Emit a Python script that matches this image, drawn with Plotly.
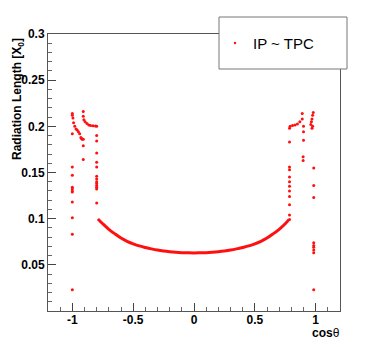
import plotly.graph_objects as go

# ---- data ----
curve_cos = [-0.79, -0.75, -0.7, -0.65, -0.6, -0.55, -0.5, -0.45, -0.4, -0.35, -0.3, -0.25, -0.2,
             -0.15, -0.1, -0.05, 0.0, 0.05, 0.1, 0.15, 0.2, 0.25, 0.3, 0.35, 0.4, 0.45, 0.5,
             0.55, 0.6, 0.65, 0.7, 0.75, 0.78]
curve_x0 = [0.0997, 0.0945, 0.0885, 0.0835, 0.0790, 0.0755, 0.0728, 0.0705, 0.0688, 0.0673, 0.0660,
            0.0650, 0.0642, 0.0636, 0.0632, 0.0630, 0.0629, 0.0630, 0.0632, 0.0636, 0.0642, 0.0650,
            0.0660, 0.0673, 0.0688, 0.0705, 0.0728, 0.0755, 0.0790, 0.0835, 0.0885, 0.0945, 0.0990]

edge_cos = [-1.0, -0.995, -0.99, -0.98, -0.97, -0.96, -0.95, -0.94, -0.93, -0.92, -0.925,
            -1.0, -1.0, -1.0, -1.0, -1.0, -1.0, -1.0, -1.0, -1.0, -1.0, -1.0, -1.0,
            -0.91, -0.91, -0.905, -0.895, -0.88, -0.865, -0.85, -0.83, -0.81, -0.80,
            -0.91, -0.91, -0.91,
            -0.8, -0.8, -0.8, -0.8, -0.8, -0.8, -0.8, -0.8, -0.8, -0.8, -0.8, -0.8, -0.8,
            0.96, 0.965, 0.97, 0.975, 0.98, 0.975, 0.97,
            0.89, 0.89, 0.87, 0.85, 0.83, 0.81, 0.79, 0.90, 0.90, 0.90,
            0.785, 0.785, 0.785, 0.785, 0.785, 0.785, 0.785, 0.785, 0.785, 0.785, 0.785, 0.785,
            0.897, 0.897,
            0.984, 0.984, 0.984, 0.984, 0.984, 0.984, 0.984, 0.984, 0.984]
edge_x0 = [0.214, 0.209, 0.204, 0.200, 0.197, 0.196, 0.194, 0.192, 0.188, 0.186, 0.187,
           0.192, 0.156, 0.147, 0.134, 0.132, 0.130, 0.129, 0.118, 0.101, 0.083, 0.023, 0.212,
           0.216, 0.211, 0.207, 0.205, 0.203, 0.2015, 0.2008, 0.2005, 0.2003, 0.2002,
           0.186, 0.179, 0.164,
           0.190, 0.184, 0.171, 0.161, 0.156, 0.146, 0.143, 0.140, 0.138, 0.136, 0.134, 0.132, 0.117,
           0.202, 0.205, 0.208, 0.212, 0.215, 0.200, 0.198,
           0.214, 0.208, 0.205, 0.2025, 0.2015, 0.201, 0.200, 0.200, 0.194, 0.185,
           0.198, 0.183, 0.156, 0.153, 0.145, 0.140, 0.135, 0.130, 0.124, 0.115, 0.104, 0.099,
           0.167, 0.163,
           0.155, 0.136, 0.123, 0.074, 0.071, 0.069, 0.066, 0.063, 0.023]

x_ticks = [-1, -0.5, 0, 0.5, 1]
x_tick_labels = ["-1", "-0.5", "0", "0.5", "1"]
y_ticks = [0.05, 0.1, 0.15, 0.2, 0.25, 0.3]
y_tick_labels = ["0.05", "0.1", "0.15", "0.2", "0.25", "0.3"]

legend_label = "IP ~ TPC"
RED = "#ff1010"

fig = go.Figure()
fig.add_trace(go.Scatter(x=curve_cos, y=curve_x0, mode="lines", line=dict(color=RED, width=3, shape="spline"),
                         showlegend=False, hoverinfo="skip"))
fig.add_trace(go.Scatter(x=edge_cos, y=edge_x0, mode="markers", marker=dict(color=RED, size=3),
                         name=legend_label, showlegend=False))

# page body has an 8px margin; size the figure so the plot lands where the reference has it
OFF = 8
W, H = 365 - 2 * OFF, 347 - 2 * OFF
L, R, T, B = 48 - OFF, W - (340 - OFF), 34 - OFF, H - (311 - OFF)
pw, ph = W - L - R, H - T - B


def px(x):
    return (x - OFF - L) / pw


def py(y):
    return (H - B - (y - OFF)) / ph


FAM = "Liberation Sans, Arial, sans-serif"
axis_font = dict(family=FAM, size=12, color="black")
fig.update_layout(
    width=W, height=H,
    margin=dict(l=L, r=R, t=T, b=B, pad=0),
    paper_bgcolor="white", plot_bgcolor="white",
    showlegend=False,
    xaxis=dict(range=[-1.2, 1.2], tickvals=x_ticks, ticktext=["<b>%s</b>" % t for t in x_tick_labels],
               ticks="inside", ticklen=8, tickcolor="#444", showgrid=False, zeroline=False, showline=True,
               linecolor="#555", linewidth=1, mirror=True, tickfont=axis_font, ticklabelstandoff=-2,
               minor=dict(ticks="inside", ticklen=4, dtick=0.1, tick0=0, tickcolor="#666", showgrid=False)),
    yaxis=dict(range=[0, 0.3], tickvals=y_ticks, ticktext=["<b>%s</b>" % t for t in y_tick_labels],
               ticks="inside", ticklen=8, tickcolor="#444", showgrid=False, zeroline=False, showline=True,
               linecolor="#555", linewidth=1, mirror=True, tickfont=axis_font,
               minor=dict(ticks="inside", ticklen=4, dtick=0.01, tick0=0, tickcolor="#666", showgrid=False)),
    shapes=[
        dict(type="rect", xref="paper", yref="paper", x0=px(219), x1=px(347), y0=py(69), y1=py(17),
             fillcolor="white", line=dict(color="#777", width=1), layer="above"),
        dict(type="circle", xref="paper", yref="paper", x0=px(233.8), x1=px(236.2), y0=py(44.2), y1=py(41.8),
             fillcolor=RED, line=dict(width=0), layer="above"),
    ],
    annotations=[
        dict(text=legend_label, xref="paper", yref="paper", x=px(251), y=py(43), xanchor="left", yanchor="middle",
             showarrow=False, font=dict(family=FAM, size=15, color="black")),
        dict(text="<b>Radiation Length [X<sub>0</sub>]</b>", xref="paper", yref="paper", x=px(8), y=py(36),
             xanchor="left", yanchor="top", textangle=-90, showarrow=False,
             font=dict(family=FAM, size=12, color="black")),
        dict(text="<b>cos</b>θ", xref="paper", yref="paper", x=px(341), y=py(333),
             xanchor="right", yanchor="middle", showarrow=False, borderpad=0,
             font=dict(family=FAM, size=12, color="black")),
    ],
)

fig.write_html("out.html")
